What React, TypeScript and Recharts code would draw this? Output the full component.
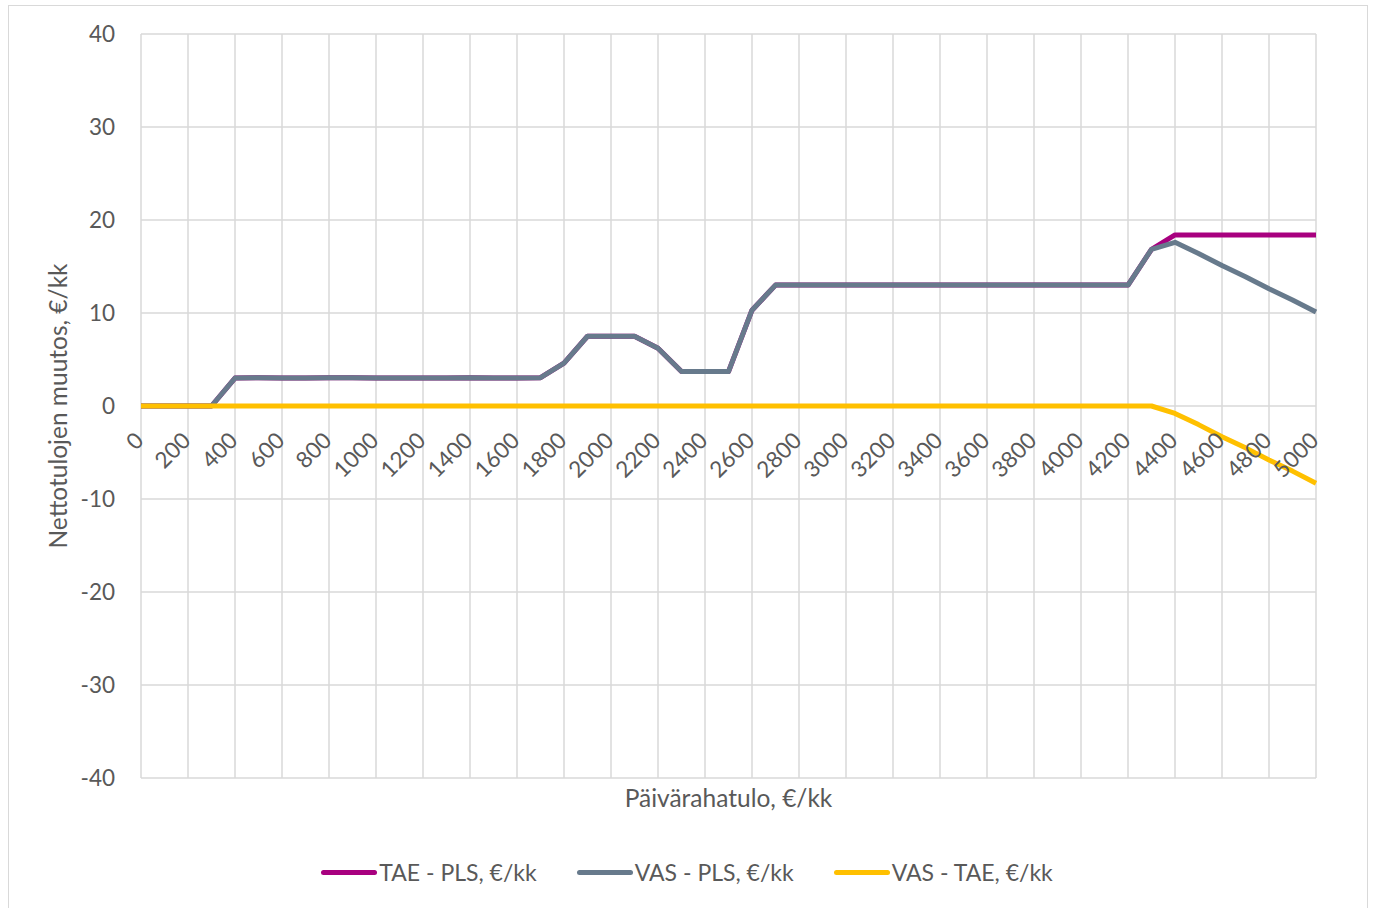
import { LineChart, Line, XAxis, YAxis, CartesianGrid, Legend } from "recharts";

const income = [
  0, 100, 200, 300, 400, 500, 600, 700, 800, 900, 1000, 1100, 1200, 1300, 1400, 1500, 1600,
  1700, 1800, 1900, 2000, 2100, 2200, 2300, 2400, 2500, 2600, 2700, 2800, 2900, 3000, 3100,
  3200, 3300, 3400, 3500, 3600, 3700, 3800, 3900, 4000, 4100, 4200, 4300, 4400, 4500, 4600,
  4700, 4800, 4900, 5000,
];

const taePls = [
  0, 0, 0, 0, 3.0, 3.05, 3.0, 3.0, 3.05, 3.05, 3.0, 3.0, 3.0, 3.0, 3.05, 3.0, 3.0,
  3.05, 4.6, 7.5, 7.5, 7.5, 6.2, 3.7, 3.7, 3.7, 10.3, 13.0, 13.0, 13.0, 13.0, 13.0,
  13.0, 13.0, 13.0, 13.0, 13.0, 13.0, 13.0, 13.0, 13.0, 13.0, 13.0, 16.85, 18.4, 18.4, 18.4,
  18.4, 18.4, 18.4, 18.4,
];

const vasPls = [
  0, 0, 0, 0, 3.0, 3.05, 3.0, 3.0, 3.05, 3.05, 3.0, 3.0, 3.0, 3.0, 3.05, 3.0, 3.0,
  3.05, 4.6, 7.5, 7.5, 7.5, 6.2, 3.7, 3.7, 3.7, 10.3, 13.0, 13.0, 13.0, 13.0, 13.0,
  13.0, 13.0, 13.0, 13.0, 13.0, 13.0, 13.0, 13.0, 13.0, 13.0, 13.0, 16.85, 17.6, 16.4, 15.1,
  13.9, 12.6, 11.4, 10.1,
];

const vasTae = [
  0, 0, 0, 0, 0, 0, 0, 0, 0, 0, 0, 0, 0, 0, 0, 0, 0,
  0, 0, 0, 0, 0, 0, 0, 0, 0, 0, 0, 0, 0, 0, 0,
  0, 0, 0, 0, 0, 0, 0, 0, 0, 0, 0, 0, -0.8, -2.0, -3.3,
  -4.5, -5.8, -7.0, -8.3,
];

const xTicks = [
  0, 200, 400, 600, 800, 1000, 1200, 1400, 1600, 1800, 2000, 2200, 2400, 2600, 2800, 3000,
  3200, 3400, 3600, 3800, 4000, 4200, 4400, 4600, 4800, 5000,
];
const yTicks = [-40, -30, -20, -10, 0, 10, 20, 30, 40];

const data = income.map((x, i) => ({
  x,
  taePls: taePls[i],
  vasPls: vasPls[i],
  vasTae: vasTae[i],
}));

const FONT = "Lato, 'Open Sans', sans-serif";
const TEXT = "#595959";
const GRID = "#d9d9d9";

// plot area geometry, the category labels sit next to the zero line
const PLOT_TOP = 34;
const PLOT_H = 744;
const ZERO_Y = PLOT_TOP + PLOT_H / 2;

const XTick = (props: any) => {
  const { x, payload } = props;
  return (
    <text
      transform={`translate(${x + 4},${ZERO_Y + 36}) rotate(-45)`}
      textAnchor="end"
      fontSize={22.5}
      fontFamily={FONT}
      fill={TEXT}
    >
      {payload.value}
    </text>
  );
};

const renderLegend = (props: any) => {
  const { payload } = props;
  return (
    <div
      style={{
        display: "flex",
        justifyContent: "center",
        alignItems: "center",
        height: 40,
        fontFamily: FONT,
        fontSize: 23,
        color: TEXT,
      }}
    >
      {payload.map((p: any) => (
        <div key={p.value} style={{ display: "flex", alignItems: "center", margin: "0 20px" }}>
          <span
            style={{
              display: "inline-block",
              width: 56,
              height: 5,
              borderRadius: 3,
              background: p.color,
              marginRight: 2,
            }}
          />
          {p.value}
        </div>
      ))}
    </div>
  );
};

export default function App() {
  return (
    <div
      style={{
        position: "absolute",
        left: 0,
        top: 0,
        width: 1374,
        height: 908,
        overflow: "hidden",
        background: "#fff",
      }}
    >
      <div
        style={{
          position: "absolute",
          left: 8,
          top: 5,
          width: 1358,
          height: 920,
          border: `1.5px solid ${GRID}`,
        }}
      />
      <div style={{ position: "absolute", left: 0, top: 0 }}>
        <LineChart
          width={1374}
          height={908}
          data={data}
          margin={{ top: PLOT_TOP, right: 58, bottom: 10, left: 0 }}
        >
          <CartesianGrid stroke={GRID} strokeWidth={1.5} />
          <XAxis
            dataKey="x"
            type="number"
            domain={[0, 5000]}
            ticks={xTicks}
            interval={0}
            axisLine={false}
            tickLine={false}
            height={80}
            tick={<XTick />}
            label={{
              value: "Päivärahatulo, €/kk",
              position: "insideTop",
              offset: 12,
              fontSize: 24.5,
              fontFamily: FONT,
              fill: TEXT,
            }}
          />
          <YAxis
            domain={[-40, 40]}
            ticks={yTicks}
            width={141}
            axisLine={false}
            tickLine={false}
            tickSize={6}
            tickMargin={20}
            tick={{ fontSize: 22.5, fontFamily: FONT, fill: TEXT }}
            label={{
              value: "Nettotulojen muutos, €/kk",
              angle: -90,
              position: "center",
              dx: -12,
              fontSize: 24.5,
              fontFamily: FONT,
              fill: TEXT,
            }}
          />
          <Legend
            content={renderLegend}
            wrapperStyle={{ top: 852, left: 0, width: 1374 }}
          />
          <Line
            dataKey="taePls"
            name="TAE - PLS, €/kk"
            stroke="#a8007f"
            strokeWidth={5}
            strokeLinejoin="round"
            dot={false}
            isAnimationActive={false}
          />
          <Line
            dataKey="vasPls"
            name="VAS - PLS, €/kk"
            stroke="#677a8c"
            strokeWidth={5}
            strokeLinejoin="round"
            dot={false}
            isAnimationActive={false}
          />
          <Line
            dataKey="vasTae"
            name="VAS - TAE, €/kk"
            stroke="#ffc000"
            strokeWidth={5}
            strokeLinejoin="round"
            dot={false}
            isAnimationActive={false}
          />
        </LineChart>
      </div>
    </div>
  );
}
